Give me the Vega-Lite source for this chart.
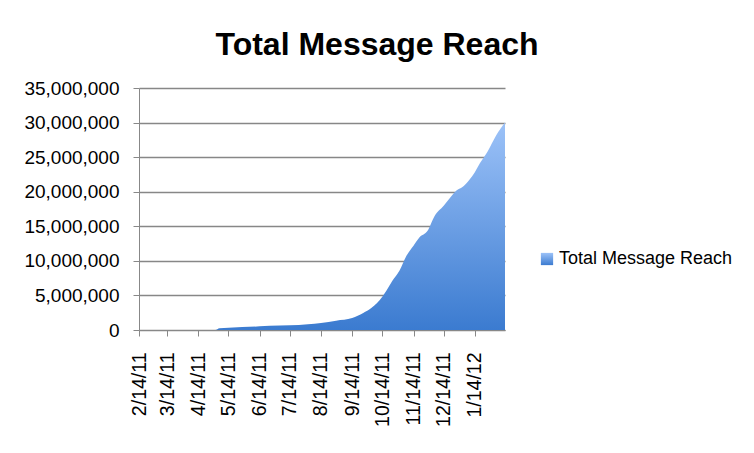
{
  "$schema": "https://vega.github.io/schema/vega-lite/v6.json",
  "width": 366,
  "height": 242,
  "autosize": {"type": "none"},
  "padding": {"left": 139, "top": 88, "right": 249, "bottom": 123},
  "background": "white",
  "title": {
    "text": "Total Message Reach",
    "font": "Liberation Sans",
    "fontSize": 32,
    "fontWeight": "bold",
    "color": "black",
    "anchor": "middle",
    "dx": 55,
    "offset": 17
  },
  "data": {
    "values": [
      {"date": "2011-02-14", "reach": 0, "series": "Total Message Reach"},
      {"date": "2011-03-14", "reach": 0, "series": "Total Message Reach"},
      {"date": "2011-04-14", "reach": 0, "series": "Total Message Reach"},
      {"date": "2011-05-01", "reach": 0, "series": "Total Message Reach"},
      {"date": "2011-05-05", "reach": 240000, "series": "Total Message Reach"},
      {"date": "2011-05-14", "reach": 340000, "series": "Total Message Reach"},
      {"date": "2011-06-14", "reach": 530000, "series": "Total Message Reach"},
      {"date": "2011-06-24", "reach": 630000, "series": "Total Message Reach"},
      {"date": "2011-07-14", "reach": 670000, "series": "Total Message Reach"},
      {"date": "2011-08-01", "reach": 820000, "series": "Total Message Reach"},
      {"date": "2011-08-14", "reach": 1000000, "series": "Total Message Reach"},
      {"date": "2011-08-29", "reach": 1350000, "series": "Total Message Reach"},
      {"date": "2011-09-14", "reach": 1730000, "series": "Total Message Reach"},
      {"date": "2011-09-25", "reach": 2460000, "series": "Total Message Reach"},
      {"date": "2011-10-03", "reach": 3180000, "series": "Total Message Reach"},
      {"date": "2011-10-14", "reach": 4820000, "series": "Total Message Reach"},
      {"date": "2011-10-18", "reach": 5680000, "series": "Total Message Reach"},
      {"date": "2011-10-24", "reach": 7130000, "series": "Total Message Reach"},
      {"date": "2011-10-31", "reach": 8570000, "series": "Total Message Reach"},
      {"date": "2011-11-07", "reach": 10740000, "series": "Total Message Reach"},
      {"date": "2011-11-14", "reach": 12190000, "series": "Total Message Reach"},
      {"date": "2011-11-20", "reach": 13400000, "series": "Total Message Reach"},
      {"date": "2011-11-28", "reach": 14350000, "series": "Total Message Reach"},
      {"date": "2011-12-05", "reach": 16500000, "series": "Total Message Reach"},
      {"date": "2011-12-14", "reach": 17970000, "series": "Total Message Reach"},
      {"date": "2011-12-22", "reach": 19400000, "series": "Total Message Reach"},
      {"date": "2011-12-27", "reach": 20200000, "series": "Total Message Reach"},
      {"date": "2012-01-01", "reach": 20600000, "series": "Total Message Reach"},
      {"date": "2012-01-09", "reach": 21800000, "series": "Total Message Reach"},
      {"date": "2012-01-14", "reach": 22800000, "series": "Total Message Reach"},
      {"date": "2012-01-19", "reach": 24100000, "series": "Total Message Reach"},
      {"date": "2012-01-27", "reach": 25900000, "series": "Total Message Reach"},
      {"date": "2012-02-04", "reach": 28100000, "series": "Total Message Reach"},
      {"date": "2012-02-13", "reach": 30000000, "series": "Total Message Reach"}
    ]
  },
  "mark": {
    "type": "area",
    "interpolate": "monotone",
    "strokeWidth": 0,
    "fill": {
      "gradient": "linear",
      "x1": 0, "y1": 1, "x2": 0, "y2": 0,
      "stops": [
        {"offset": 0, "color": "#3b7bd0"},
        {"offset": 1, "color": "#9cc2f8"}
      ]
    }
  },
  "encoding": {
    "x": {
      "field": "date",
      "type": "temporal",
      "scale": {
        "type": "utc",
        "domain": [
          {"year": 2011, "month": 2, "date": 14, "utc": true},
          {"year": 2012, "month": 2, "date": 13, "utc": true}
        ]
      },
      "axis": {
        "title": null,
        "values": [
          {"year": 2011, "month": 2, "date": 14, "utc": true},
          {"year": 2011, "month": 3, "date": 14, "utc": true},
          {"year": 2011, "month": 4, "date": 14, "utc": true},
          {"year": 2011, "month": 5, "date": 14, "utc": true},
          {"year": 2011, "month": 6, "date": 14, "utc": true},
          {"year": 2011, "month": 7, "date": 14, "utc": true},
          {"year": 2011, "month": 8, "date": 14, "utc": true},
          {"year": 2011, "month": 9, "date": 14, "utc": true},
          {"year": 2011, "month": 10, "date": 14, "utc": true},
          {"year": 2011, "month": 11, "date": 14, "utc": true},
          {"year": 2011, "month": 12, "date": 14, "utc": true},
          {"year": 2012, "month": 1, "date": 14, "utc": true}
        ],
        "format": "%-m/%-d/%y",
        "labelAngle": -90,
        "labelFont": "Liberation Sans",
        "labelFontSize": 19.5,
        "labelColor": "black",
        "labelPadding": 16,
        "labelFlush": false,
        "labelOverlap": false,
        "labelBound": false,
        "tickSize": 6,
        "tickColor": "#888888",
        "domainColor": "#888888",
        "grid": false
      }
    },
    "y": {
      "field": "reach",
      "type": "quantitative",
      "scale": {"domain": [0, 35000000], "nice": false},
      "axis": {
        "title": null,
        "values": [0, 5000000, 10000000, 15000000, 20000000, 25000000, 30000000, 35000000],
        "format": ",d",
        "labelFont": "Liberation Sans",
        "labelFontSize": 19,
        "labelColor": "black",
        "labelPadding": 14,
        "labelFlush": false,
        "labelOverlap": false,
        "tickSize": 6,
        "tickColor": "#888888",
        "domainColor": "#888888",
        "grid": true,
        "gridColor": "#878787",
        "gridWidth": 1.3
      }
    },
    "stroke": {
      "field": "series",
      "type": "nominal",
      "scale": {"range": ["#5b93e0"]},
      "legend": {
        "title": null,
        "orient": "none",
        "legendX": 399,
        "legendY": 162,
        "symbolType": "square",
        "symbolSize": 150,
        "symbolStrokeWidth": 0,
        "labelFont": "Liberation Sans",
        "labelFontSize": 18,
        "labelColor": "black",
        "labelOffset": 3,
        "labelLimit": 0,
        "encode": {
          "symbols": {
            "update": {
              "fill": {
                "value": {
                  "gradient": "linear",
                  "x1": 0, "y1": 1, "x2": 0, "y2": 0,
                  "stops": [
                    {"offset": 0, "color": "#3b7bd0"},
                    {"offset": 1, "color": "#9cc2f8"}
                  ]
                }
              },
              "strokeWidth": {"value": 0},
              "opacity": {"value": 1}
            }
          }
        }
      }
    }
  },
  "config": {
    "view": {"stroke": null}
  }
}
